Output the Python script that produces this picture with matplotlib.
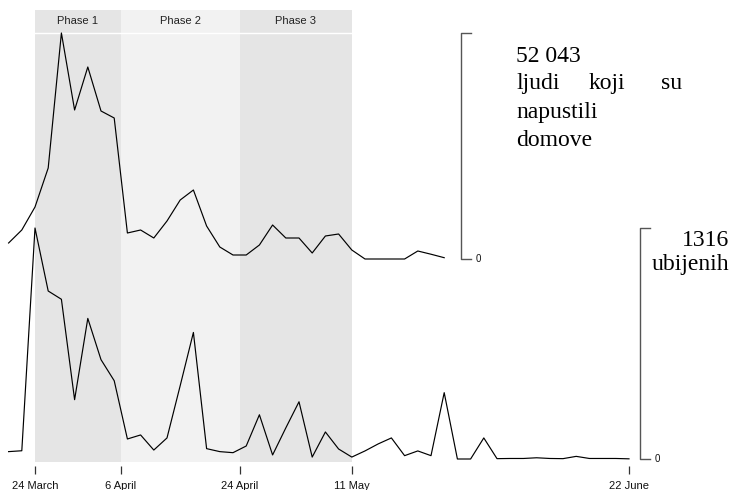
import matplotlib
matplotlib.use("Agg")
import matplotlib.pyplot as plt
import matplotlib.dates as mdates
import matplotlib.transforms as mtransforms
import pandas as pd

# --- data: observations every two days from 20 March 1999 ---
start_date = "1999-03-20"
displaced = [3685, 6679, 11975, 20956, 52043, 34313, 44215, 34083, 32469,
             5987, 6679, 4836, 8751, 13587, 15890, 7600, 2764, 921, 921,
             3224, 7830, 4836, 4836, 1382, 5297, 5758, 2073, 0, 0, 0, 0,
             1842, 1100, 300]
killed = [42, 47, 1316, 957, 910, 338, 801, 566, 446, 114, 137, 51, 120,
          418, 721, 59, 42, 36, 74, 252, 23, 177, 326, 11, 154, 57, 11, 46,
          86, 120, 19, 46, 19, 378, 0, 0, 120, 2, 3, 3, 7, 3, 2, 15, 3, 3,
          3, 1]

phase_names = ["Phase 1", "Phase 2", "Phase 3"]
phase_starts = ["1999-03-24", "1999-04-06", "1999-04-24"]
phase_ends = ["1999-04-06", "1999-04-24", "1999-05-11"]
phase_colors = ["#e5e5e5", "#f2f2f2", "#e5e5e5"]

tick_dates = ["1999-03-24", "1999-04-06", "1999-04-24", "1999-05-11", "1999-06-22"]
tick_labels = ["24 March", "6 April", "24 April", "11 May", "22 June"]

displaced_caption = ["ljudi", "koji", "su"]
displaced_caption_rest = ["napustili", "domove"]
killed_caption = "ubijenih"

# --- layout (pixels) ---
W, H = 732, 490
AX_BOTTOM = 466           # bottom edge of the plotting area, from top
SHADE_TOP, SHADE_BOTTOM, HEADER_LINE = 10, 462, 33
PX_PER_DAY = 6.6
ORIGIN_PX = 35

sans = "Liberation Sans"
serif = "Liberation Serif"

d_dates = pd.date_range(start_date, periods=len(displaced), freq="2D")
k_dates = pd.date_range(start_date, periods=len(killed), freq="2D")

fig = plt.figure(figsize=(W / 100, H / 100), dpi=100)
rect = [0, 1 - AX_BOTTOM / H, 1, AX_BOTTOM / H]
ax = fig.add_axes(rect)
ax2 = fig.add_axes(rect, sharex=ax)
ax2.patch.set_visible(False)

origin = mdates.date2num(pd.Timestamp(tick_dates[0]))
ax.set_xlim(origin - ORIGIN_PX / PX_PER_DAY, origin + (W - ORIGIN_PX) / PX_PER_DAY)


def ylim_for(zero_px, top_px, vmax):
    s = vmax / (zero_px - top_px)
    return (-(AX_BOTTOM - zero_px) * s, zero_px * s)


k_max, d_max = max(killed), max(displaced)
ax.set_ylim(*ylim_for(459, 228, k_max))
ax2.set_ylim(*ylim_for(259, 33, d_max))

for a in (ax, ax2):
    for s in a.spines.values():
        s.set_visible(False)
    a.set_yticks([])
ax2.tick_params(axis="x", which="both", bottom=False, labelbottom=False)

ax.set_xticks([mdates.date2num(pd.Timestamp(t)) for t in tick_dates])
ax.set_xticklabels(tick_labels, fontfamily=sans, fontsize=8)
ax.tick_params(axis="x", direction="out", length=5.5, width=0.9,
               color="#333333", pad=5, labelcolor="#111111")

# phase shading with header band
ytop = 1 - SHADE_TOP / AX_BOTTOM
ybot = 1 - SHADE_BOTTOM / AX_BOTTOM
blend = mtransforms.blended_transform_factory(ax.transData, ax.transAxes)
for name, s, e, c in zip(phase_names, phase_starts, phase_ends, phase_colors):
    s_num = mdates.date2num(pd.Timestamp(s))
    e_num = mdates.date2num(pd.Timestamp(e))
    ax.axvspan(s_num, e_num, ymin=ybot, ymax=ytop, color=c, lw=0, zorder=0)
    ax.text((s_num + e_num) / 2, 1 - 20.5 / AX_BOTTOM, name, transform=blend,
            ha="center", va="center", fontfamily=sans, fontsize=8, color="#222222")
hl = 1 - HEADER_LINE / AX_BOTTOM
ax.plot([mdates.date2num(pd.Timestamp(phase_starts[0])),
         mdates.date2num(pd.Timestamp(phase_ends[-1]))], [hl, hl],
        transform=blend, color="white", lw=1.0, zorder=1)

# series
ax.plot(k_dates, killed, color="black", lw=0.85, zorder=3)
ax2.plot(d_dates, displaced, color="black", lw=0.85, zorder=3)


def bracket(axis, x_px, vmax):
    tr = mtransforms.blended_transform_factory(fig.transFigure, axis.transData)
    x0 = x_px / W
    x1 = (x_px + 10) / W
    axis.plot([x1, x0, x0, x1], [vmax, vmax, 0, 0], transform=tr,
              color="#555555", lw=1.0, clip_on=False, zorder=4)
    axis.text((x_px + 17) / W, 0, "0", transform=tr, ha="center", va="center",
              fontfamily=sans, fontsize=7, color="#111111")


bracket(ax2, 461, d_max)
bracket(ax, 640, k_max)


# captions
def ftext(x_px, y_px, s, ha="left"):
    fig.text(x_px / W, 1 - y_px / H, s, ha=ha, va="baseline",
             fontfamily=serif, fontsize=17, color="black")


ftext(516, 62, f"{d_max:,}".replace(",", " "))
ftext(516, 89, displaced_caption[0])
ftext(607, 89, displaced_caption[1], ha="center")
ftext(682, 89, displaced_caption[2], ha="right")
ftext(516, 118, displaced_caption_rest[0])
ftext(516, 146, displaced_caption_rest[1])

ftext(729, 246, f"{k_max}", ha="right")
ftext(729, 270, killed_caption, ha="right")

fig.savefig("out.png", dpi=100)
